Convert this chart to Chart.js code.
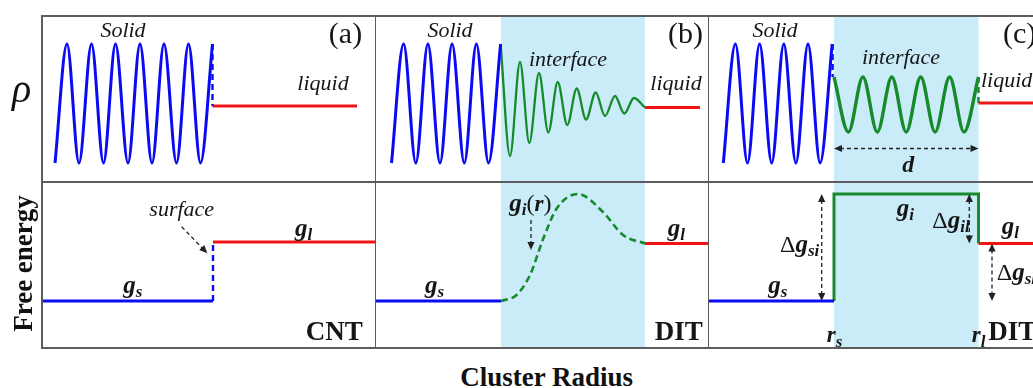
<!DOCTYPE html>
<html>
<head>
<meta charset="utf-8">
<title>Cluster free energy: CNT vs DIT</title>
<script src="https://cdn.jsdelivr.net/npm/chart.js@4.4.1/dist/chart.umd.min.js"></script>
<style>
  html, body { margin: 0; padding: 0; background: #fff; }
  body { width: 1033px; height: 388px; overflow: hidden; position: relative; font-family: "Liberation Serif", serif; }
  .panel { position: absolute; width: 334px; height: 166px; }
  .rule { position: absolute; background: #5c5c5c; z-index: 5; }
  .txt { position: absolute; white-space: nowrap; color: #111; text-align: center; }
</style>
</head>
<body>

<div class="panel" style="left:42px;top:16px"><canvas id="topA"></canvas></div>
<div class="panel" style="left:375px;top:16px"><canvas id="topB"></canvas></div>
<div class="panel" style="left:708px;top:16px"><canvas id="topC"></canvas></div>
<div class="panel" style="left:42px;top:182px"><canvas id="botA"></canvas></div>
<div class="panel" style="left:375px;top:182px"><canvas id="botB"></canvas></div>
<div class="panel" style="left:708px;top:182px"><canvas id="botC"></canvas></div>

<!-- frame -->
<div class="rule" style="left:41px;top:15px;width:1000px;height:1.6px"></div>
<div class="rule" style="left:41px;top:181.2px;width:1000px;height:1.6px"></div>
<div class="rule" style="left:41px;top:347.2px;width:1000px;height:1.6px"></div>
<div class="rule" style="left:41.2px;top:15px;width:1.6px;height:334px"></div>
<div class="rule" style="left:374.7px;top:15px;width:1.6px;height:334px"></div>
<div class="rule" style="left:707.9px;top:15px;width:1.6px;height:334px"></div>

<div class="txt" style="left:0;width:43px;top:68.5px;font:italic 40px/40px 'Liberation Serif'">ρ</div>
<div class="txt" style="left:-87px;top:249.5px;width:220px;font:bold 27px/27px 'Liberation Serif';transform:rotate(-90deg)">Free energy</div>
<div class="txt" style="left:346.7px;top:363.5px;width:400px;font:bold 27px/27px 'Liberation Serif'">Cluster Radius</div>

<script>
// ---- density profiles (top row): r along the cluster radius, rho in arbitrary units ----
// (a) CNT: sharp solid / liquid boundary
const rA_solid = [13, 25, 37, 49.5, 61.5, 73.5, 86, 98, 110, 122, 134.5, 146.5, 158.5, 170.5];
const rhoA_solid = [19, 138, 19, 138, 19, 138, 19, 138, 19, 138, 19, 138, 19, 138];
const rA_liquid = [170.5, 315];
const rhoA_liquid = [76, 76];

// (b) DIT: decaying density waves through the interface
const rB_solid = [16.5, 28.6, 40.8, 52.9, 65, 77.1, 89.3, 101.4, 113.5, 125.6];
const rhoB_solid = [19, 138, 19, 138, 19, 138, 19, 138, 19, 138];
const rB_interface = [125.6, 135, 145, 154.3, 164, 173.3, 182.7, 192.3, 201.7, 211, 220.7, 230, 240, 249.3, 259, 270];
const rhoB_interface = [138, 26, 120, 39, 109, 49.5, 100, 57, 93.5, 62.5, 89.5, 66, 86, 68.5, 84, 74.5];
const rB_liquid = [270, 325];
const rhoB_liquid = [74.5, 74.5];

// (c) DIT with an interface layer of uniform structure, width d
const rC_solid = [15.3, 27.4, 39.5, 51.6, 63.7, 75.8, 87.9, 100, 112.1, 124.2];
const rhoC_solid = [19, 138, 19, 138, 19, 138, 19, 138, 19, 138];
const rC_interface = [126, 140.4, 154.9, 169.3, 183.8, 198.2, 212.7, 227.1, 241.6, 256, 270.5];
const rhoC_interface = [105, 50, 105, 50, 105, 50, 105, 50, 105, 50, 105];
const rC_liquid = [270.5, 334];
const rhoC_liquid = [79, 79];

// interface bounds [r_s, r_l]
const interfaceB = [126, 270];
const interfaceC = [126, 270.5];

// ---- free energy (bottom row) ----
const gS = 47;              // solid
const gL_A = 106;           // liquid, CNT panel
const gL = 104.5;           // liquid, DIT panels
const gI_C = 154;           // flat interface level in (c)
// (b) smooth interface free energy g_i(r)
const rB_gi = [126, 141.5, 155, 168.5, 182, 203, 228, 248, 270];
const gB_gi = [47, 53, 73, 110, 140, 154, 136, 113, 104.5];

const BLUE = '#0a0af5', RED = '#f21414', GREEN = '#178a2c', SHADE = '#c9ecf8', INK = '#161616';

const IT = 'italic 22px "Liberation Serif"';
const BI = 'italic bold 25px "Liberation Serif"';
const BIs = 'italic bold 17px "Liberation Serif"';
const BIr = 'italic bold 23px "Liberation Serif"';
const UP = '24px "Liberation Serif"';
const TAG = '30px "Liberation Serif"';
const BOLD = 'bold 27px "Liberation Serif"';

function pts(rs, vs) { return rs.map((r, i) => ({ x: r, y: vs[i] })); }

function curve(rs, vs, color, width, extra) {
  return Object.assign({
    data: pts(rs, vs), borderColor: color, borderWidth: width,
    pointRadius: 0, fill: false, cubicInterpolationMode: 'monotone'
  }, extra || {});
}

function seg(rs, vs, color, width, extra) {
  return Object.assign({
    data: pts(rs, vs), borderColor: color, borderWidth: width,
    pointRadius: 0, fill: false, tension: 0
  }, extra || {});
}

function drawRuns(ctx, x, y, align, runs) {
  let w = 0;
  runs.forEach(([t, f]) => { ctx.font = f; w += ctx.measureText(t).width; });
  let cx = align === 'center' ? x - w / 2 : align === 'right' ? x - w : x;
  ctx.textAlign = 'left';
  ctx.textBaseline = 'alphabetic';
  runs.forEach(([t, f, dy]) => {
    ctx.font = f;
    ctx.fillText(t, cx, y + (dy || 0));
    cx += ctx.measureText(t).width;
  });
}

function arrowHead(ctx, x, y, ang) {
  const L = 8, W = 3.6;
  ctx.beginPath();
  ctx.moveTo(x, y);
  ctx.lineTo(x - L * Math.cos(ang) + W * Math.sin(ang), y - L * Math.sin(ang) - W * Math.cos(ang));
  ctx.lineTo(x - L * Math.cos(ang) - W * Math.sin(ang), y - L * Math.sin(ang) + W * Math.cos(ang));
  ctx.closePath();
  ctx.fill();
}

function dashedArrow(ctx, x1, y1, x2, y2, both) {
  const ang = Math.atan2(y2 - y1, x2 - x1);
  const c = Math.cos(ang), s = Math.sin(ang);
  ctx.save();
  ctx.strokeStyle = '#222';
  ctx.fillStyle = '#222';
  ctx.lineWidth = 1.3;
  ctx.setLineDash([4, 3]);
  ctx.beginPath();
  ctx.moveTo(x1 + (both ? 6 * c : 0), y1 + (both ? 6 * s : 0));
  ctx.lineTo(x2 - 6 * c, y2 - 6 * s);
  ctx.stroke();
  ctx.setLineDash([]);
  arrowHead(ctx, x2, y2, ang);
  if (both) arrowHead(ctx, x1, y1, ang + Math.PI);
  ctx.restore();
}

// shading, arrows and labels laid over each panel in its own r / value units
function decor(opts) {
  return {
    id: 'decor',
    beforeDatasetsDraw(chart) {
      if (!opts.shade) return;
      const { ctx, chartArea: a, scales: { x } } = chart;
      ctx.save();
      ctx.fillStyle = SHADE;
      const x0 = x.getPixelForValue(opts.shade[0]), x1 = x.getPixelForValue(opts.shade[1]);
      ctx.fillRect(x0, a.top, x1 - x0, a.bottom - a.top);
      ctx.restore();
    },
    afterDatasetsDraw(chart) {
      const { ctx, scales: { x, y } } = chart;
      (opts.arrows || []).forEach(([r1, v1, r2, v2, both]) => {
        dashedArrow(ctx, x.getPixelForValue(r1), y.getPixelForValue(v1),
          x.getPixelForValue(r2), y.getPixelForValue(v2), both);
      });
      ctx.save();
      ctx.fillStyle = INK;
      (opts.labels || []).forEach(l => {
        drawRuns(ctx, x.getPixelForValue(l.r), y.getPixelForValue(l.v), l.align || 'center', l.runs);
      });
      ctx.restore();
    }
  };
}

function panel(id, datasets, opts) {
  return new Chart(document.getElementById(id), {
    type: 'line',
    data: { datasets },
    options: {
      responsive: true,
      maintainAspectRatio: false,
      animation: false,
      events: [],
      layout: { padding: 0 },
      plugins: { legend: { display: false }, tooltip: { enabled: false } },
      scales: {
        x: { type: 'linear', min: 0, max: 334, display: false },
        y: { type: 'linear', min: 0, max: 166, display: false }
      }
    },
    plugins: [decor(opts)]
  });
}

// ---- top row: density ----
panel('topA', [
  curve(rA_solid, rhoA_solid, BLUE, 3),
  seg([170.5, 170.5], [rhoA_solid[rhoA_solid.length - 1], rhoA_liquid[0]], BLUE, 2.4, { borderDash: [6, 4] }),
  seg(rA_liquid, rhoA_liquid, RED, 2.8)
], {
  labels: [
    { r: 81, v: 145, runs: [['Solid', IT]] },
    { r: 281, v: 92.5, runs: [['liquid', IT]] },
    { r: 303.5, v: 139, runs: [['(a)', TAG]] }
  ]
});

panel('topB', [
  curve(rB_solid, rhoB_solid, BLUE, 3),
  curve(rB_interface, rhoB_interface, GREEN, 2.3),
  seg(rB_liquid, rhoB_liquid, RED, 2.8)
], {
  shade: interfaceB,
  labels: [
    { r: 75, v: 145, runs: [['Solid', IT]] },
    { r: 193, v: 116, runs: [['interface', IT]] },
    { r: 301, v: 92.5, runs: [['liquid', IT]] },
    { r: 310.5, v: 139, runs: [['(b)', TAG]] }
  ]
});

panel('topC', [
  curve(rC_solid, rhoC_solid, BLUE, 3),
  seg([124.6, 124.6], [rhoC_solid[rhoC_solid.length - 1], rhoC_interface[0]], BLUE, 2.4, { borderDash: [6, 4] }),
  curve(rC_interface, rhoC_interface, GREEN, 3.4),
  seg([270.5, 270.5], [rhoC_interface[rhoC_interface.length - 1], rhoC_liquid[0]], GREEN, 2.4, { borderDash: [6, 4] }),
  seg(rC_liquid, rhoC_liquid, RED, 2.8)
], {
  shade: interfaceC,
  arrows: [[interfaceC[0], 33.5, interfaceC[1], 33.5, true]],
  labels: [
    { r: 67, v: 145, runs: [['Solid', IT]] },
    { r: 193, v: 118.5, runs: [['interface', IT]] },
    { r: 273, v: 95, align: 'left', runs: [['liquid', IT]] },
    { r: 295, v: 139, align: 'left', runs: [['(c)', TAG]] },
    { r: 200.3, v: 10.3, runs: [['d', 'italic bold 24px "Liberation Serif"']] }
  ]
});

// ---- bottom row: free energy ----
panel('botA', [
  seg([0, 171], [gS, gS], BLUE, 2.8),
  seg([171, 171], [gS, gL_A], BLUE, 2.4, { borderDash: [6, 4] }),
  seg([171, 334], [gL_A, gL_A], RED, 2.8)
], {
  arrows: [[139.7, 121.3, 165.3, 94.7, false]],
  labels: [
    { r: 139.7, v: 132.3, runs: [['surface', IT]] },
    { r: 81.3, v: 55, align: 'left', runs: [['g', BI], ['s', BIs, 4]] },
    { r: 253, v: 112, align: 'left', runs: [['g', BI], ['l', BIs, 4]] },
    { r: 320.7, v: 8, align: 'right', runs: [['CNT', BOLD]] }
  ]
});

panel('botB', [
  seg([0, interfaceB[0]], [gS, gS], BLUE, 2.8),
  curve(rB_gi, gB_gi, GREEN, 2.6, { borderDash: [7, 4] }),
  seg([interfaceB[1], 334], [gL, gL], RED, 2.8)
], {
  shade: interfaceB,
  arrows: [[156, 128, 156, 98, false]],
  labels: [
    { r: 50, v: 55, align: 'left', runs: [['g', BI], ['s', BIs, 4]] },
    { r: 134.3, v: 137, align: 'left', runs: [['g', BI], ['i', BIs, 4], ['(', UP], ['r', BIr], [')', UP]] },
    { r: 292.7, v: 112, align: 'left', runs: [['g', BI], ['l', BIs, 4]] },
    { r: 327.7, v: 8, align: 'right', runs: [['DIT', BOLD]] }
  ]
});

panel('botC', [
  seg([0, interfaceC[0]], [gS, gS], BLUE, 2.8),
  seg([interfaceC[0], interfaceC[0], interfaceC[1], interfaceC[1]], [gS, gI_C, gI_C, gL], GREEN, 3),
  seg([interfaceC[1], 334], [gL, gL], RED, 2.8)
], {
  shade: interfaceC,
  arrows: [
    [113.7, gS, 113.7, gI_C, true],
    [261.3, gI_C, 261.3, gL, true],
    [284, gL, 284, gS, true]
  ],
  labels: [
    { r: 60.3, v: 55, align: 'left', runs: [['g', BI], ['s', BIs, 4]] },
    { r: 72, v: 96.5, align: 'left', runs: [['Δ', UP], ['g', BI], ['si', BIs, 4]] },
    { r: 188.7, v: 132.3, align: 'left', runs: [['g', BI], ['i', BIs, 4]] },
    { r: 224.3, v: 119.7, align: 'left', runs: [['Δ', UP], ['g', BI], ['il', BIs, 4]] },
    { r: 293.7, v: 114, align: 'left', runs: [['g', BI], ['l', BIs, 4]] },
    { r: 288.7, v: 68, align: 'left', runs: [['Δ', UP], ['g', BI], ['sl', BIs, 4]] },
    { r: 118.7, v: 6.3, align: 'left', runs: [['r', BIr], ['s', BIs, 5]] },
    { r: 263.7, v: 6.3, align: 'left', runs: [['r', BIr], ['l', BIs, 5]] },
    { r: 280.3, v: 8, align: 'left', runs: [['DIT', BOLD]] }
  ]
});
</script>
</body>
</html>
